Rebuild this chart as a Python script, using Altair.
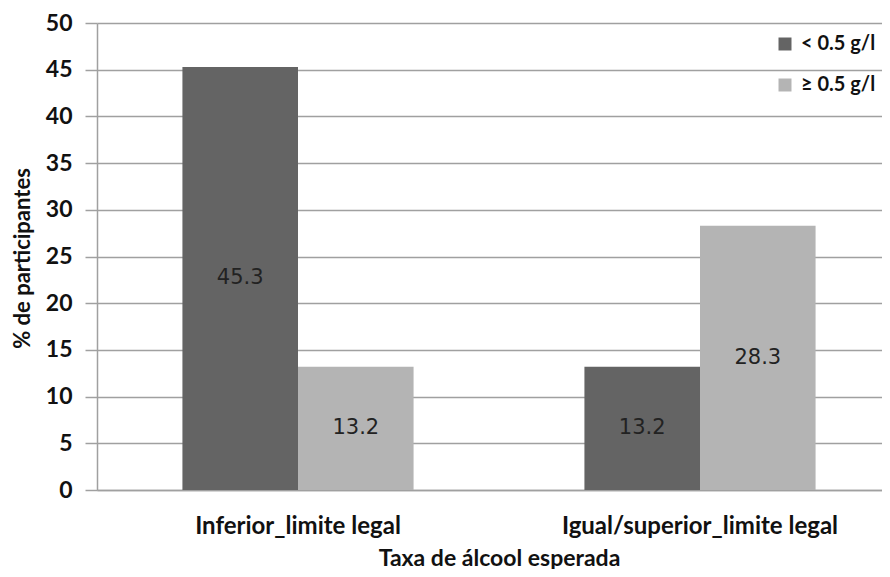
import altair as alt
import pandas as pd

categories = ["Inferior_limite legal", "Igual/superior_limite legal"]
series = ["< 0.5 g/l", "≥ 0.5 g/l"]
values_lt = [45.3, 13.2]
values_ge = [13.2, 28.3]
colors = ["#646464", "#b4b4b4"]

rows = []
for i, c in enumerate(categories):
    rows.append({"cat": c, "serie": series[0], "val": values_lt[i]})
    rows.append({"cat": c, "serie": series[1], "val": values_ge[i]})
df = pd.DataFrame(rows)

FONT = "Lato"

x = alt.X("cat:N", sort=categories,
          scale=alt.Scale(paddingInner=0.425, paddingOuter=0.2125, range=[0, 804]),
          axis=alt.Axis(title="Taxa de álcool esperada", labelAngle=0, ticks=False,
                        labelPadding=24, titlePadding=9, domainColor="#a0a0a0",
                        domainWidth=1.5, labelFont=FONT, labelFontSize=24,
                        labelFontWeight="bold", labelColor="#111", labelLimit=500,
                        titleFont=FONT, titleFontSize=23, titleFontWeight="bold",
                        titleColor="#111", grid=False))
xo = alt.XOffset("serie:N", sort=series, scale=alt.Scale(paddingInner=0, paddingOuter=0))
y = alt.Y("val:Q", scale=alt.Scale(domain=[0, 50]),
          axis=alt.Axis(title="% de participantes", values=list(range(0, 51, 5)),
                        tickSize=12, tickColor="#a0a0a0", tickWidth=1.5,
                        domainColor="#a0a0a0", domainWidth=1.5,
                        gridColor="#a0a0a0", gridWidth=1.5,
                        labelPadding=13, labelFont=FONT, labelFontSize=23,
                        labelFontWeight="bold", labelColor="#111",
                        titleFont=FONT, titleFontSize=22, titleFontWeight="bold",
                        titleColor="#111", titleX=-63, titleY=235, titleAngle=270))

bars = alt.Chart(df).mark_bar().encode(
    x=x, xOffset=xo, y=y,
    color=alt.Color("serie:N", sort=series,
                    scale=alt.Scale(domain=series, range=colors),
                    legend=alt.Legend(title=None, orient="none", legendX=678, legendY=11,
                                      symbolType="square", symbolSize=169,
                                      symbolStrokeWidth=0, rowPadding=21,
                                      labelFont=FONT, labelFontSize=20,
                                      labelFontWeight="bold", labelColor="#111",
                                      labelOffset=6)),
)

labels = alt.Chart(df).transform_calculate(mid="datum.val / 2").mark_text(
    font="DejaVu Sans", fontSize=21, color="#222", baseline="middle"
).encode(
    x=alt.X("cat:N", sort=categories), xOffset=alt.XOffset("serie:N", sort=series),
    y=alt.Y("mid:Q"),
    text=alt.Text("val:Q", format=".1f"),
)

chart = (bars + labels).properties(
    width=785, height=467,
    autosize=alt.AutoSizeParams(type="none"),
    padding={"left": 89, "top": 15, "right": 0, "bottom": 79},
).configure_view(stroke=None)

chart.save("out.html", embed_options={"renderer": "svg", "actions": False})
